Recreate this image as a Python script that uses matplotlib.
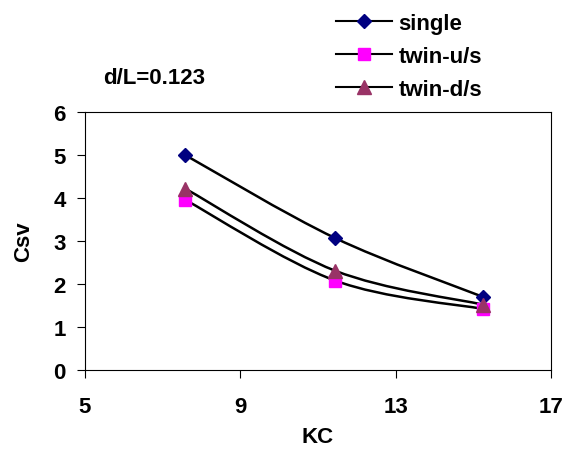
import numpy as np
import matplotlib
matplotlib.use("Agg")
import matplotlib.pyplot as plt
from matplotlib.path import Path
from matplotlib.patches import PathPatch

plt.rcParams['font.family'] = ['Liberation Sans', 'DejaVu Sans']
plt.rcParams['font.weight'] = 'bold'

# values
kc = [7.58, 11.44, 15.25]
single = [5.0, 3.07, 1.70]
twin_us = [3.96, 2.08, 1.42]
twin_ds = [4.22, 2.31, 1.52]

series = [
    ("single", single, 'D', '#000080', 7.0),
    ("twin-u/s", twin_us, 's', '#FF00FF', 8.5),
    ("twin-d/s", twin_ds, '^', '#993366', 9.5),
]

FS = 16


def smooth_path(x, y):
    # excel style smoothed line: bezier through the points
    pts = np.column_stack([x, y])
    p = np.vstack([pts[0], pts, pts[-1]])
    verts = [pts[0]]
    codes = [Path.MOVETO]
    for i in range(1, len(p) - 2):
        c1 = p[i] + (p[i + 1] - p[i - 1]) / 6.0
        c2 = p[i + 1] - (p[i + 2] - p[i]) / 6.0
        verts += [c1, c2, p[i + 1]]
        codes += [Path.CURVE4] * 3
    return Path(verts, codes)


fig = plt.figure(figsize=(5.64, 4.56), dpi=100)
ax = fig.add_axes([0.1507, 0.1864, 0.8263, 0.5656])

handles = []
for name, vals, mk, col, ms in series:
    ax.add_patch(PathPatch(smooth_path(kc, vals), facecolor='none',
                           edgecolor='black', lw=1.8, zorder=2))
    ax.plot(kc, vals, linestyle='none', marker=mk, color=col,
            markersize=ms, markeredgecolor=col, zorder=3)
    h, = ax.plot([], [], color='black', lw=1.5, marker=mk,
                 markerfacecolor=col, markeredgecolor=col, markersize=ms)
    handles.append(h)

ax.set_xlim(5, 17)
ax.set_ylim(0, 6)
ax.set_xticks([5, 9, 13, 17])
ax.set_yticks(range(0, 7))
ax.tick_params(direction='out', length=6, width=0.8, labelsize=FS)
ax.tick_params(axis='x', pad=13)
ax.tick_params(axis='y', pad=8)
for s in ax.spines.values():
    s.set_linewidth(0.8)

ax.set_xlabel('KC', fontsize=FS, fontweight='bold', labelpad=6)
ax.set_ylabel('Csv', fontsize=FS, fontweight='bold', labelpad=14)

fig.text(0.183, 0.816, 'd/L=0.123', fontsize=FS, fontweight='bold',
         va='baseline')

fig.legend(handles, [s[0] for s in series],
           loc='upper left', bbox_to_anchor=(0.596, 0.97), frameon=False,
           handlelength=2.5, handletextpad=0.3, labelspacing=0.55,
           borderpad=0, borderaxespad=0,
           prop={'weight': 'bold', 'size': FS})

fig.savefig('out.png', dpi=100)
